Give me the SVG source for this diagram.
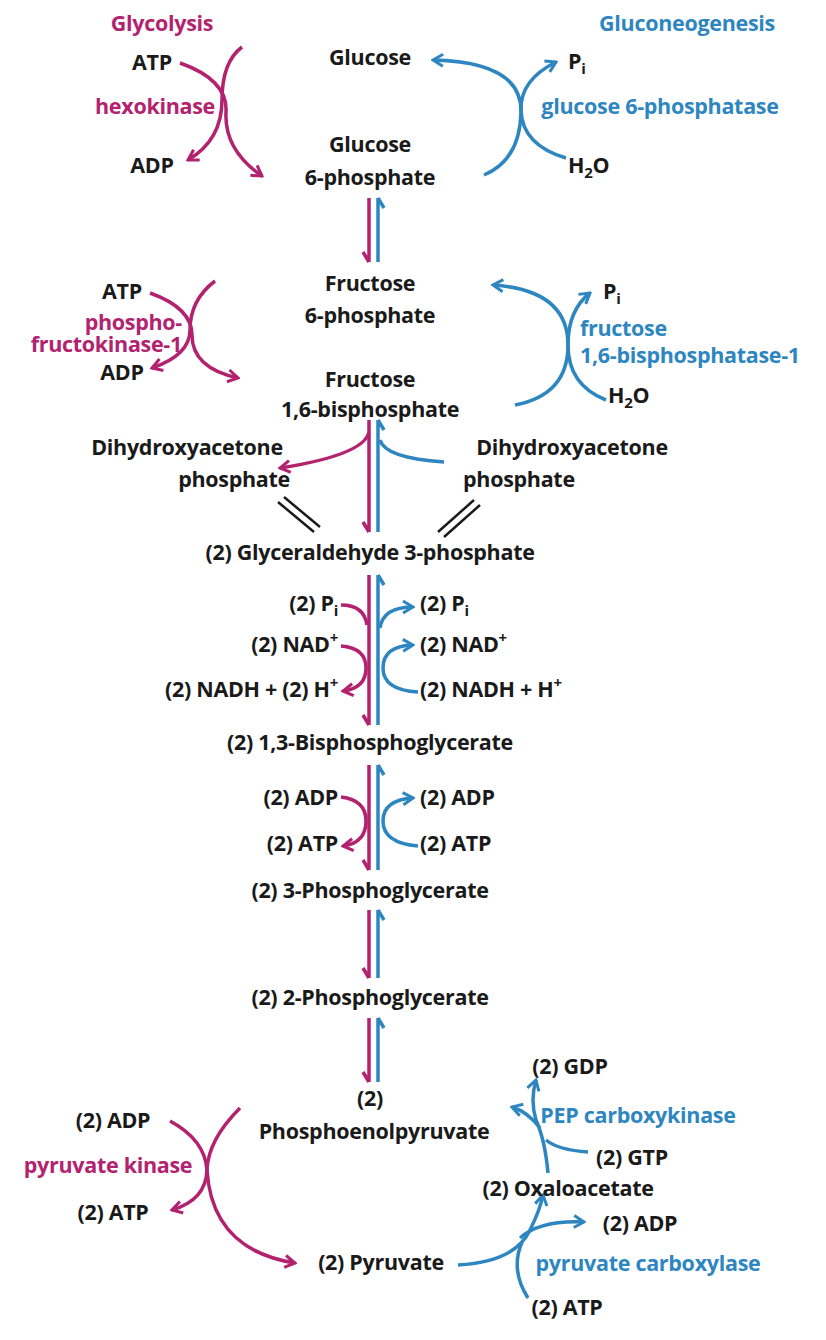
<svg xmlns="http://www.w3.org/2000/svg" width="826" height="1340" viewBox="0 0 826 1340">
<defs>
<marker id="am" viewBox="-12 -8 14 16" refX="0" refY="0" markerWidth="14" markerHeight="16" orient="auto" markerUnits="userSpaceOnUse"><path d="M-10,-6 L0,0 L-10,6" fill="none" stroke="#b3226f" stroke-width="3"/></marker>
<marker id="ab" viewBox="-12 -8 14 16" refX="0" refY="0" markerWidth="14" markerHeight="16" orient="auto" markerUnits="userSpaceOnUse"><path d="M-10,-6 L0,0 L-10,6" fill="none" stroke="#2e86c1" stroke-width="3"/></marker>
</defs>
<style>
text{font-family:"Open Sans","Liberation Sans",sans-serif;font-weight:700;font-size:21.5px;fill:#1a1a1a;text-anchor:middle;letter-spacing:-0.3px}
.m{fill:#b3226f}.b{fill:#2e86c1}
.s{text-anchor:start}.e{text-anchor:end}
.lm{fill:none;stroke:#b3226f;stroke-width:3.5}
.lb{fill:none;stroke:#2e86c1;stroke-width:3.5}
.lk{fill:none;stroke:#1a1a1a;stroke-width:2.5}
.sb{font-size:15px}
</style>
<rect width="826" height="1340" fill="#fff"/>
<g id="connectors">
<path class="lm" d="M369,198V262M369,262l-6,-10M369,420V532M369,532l-6,-10M369,575V725M369,725l-6,-10M369,765V870M369,870l-6,-10M369,910V978M369,978l-6,-10M369,1018V1082M369,1082l-6,-10"/>
<path class="lb" d="M378,198V262M378,198l6,10M378,420V532M378,420l6,10M378,575V725M378,575l6,10M378,765V870M378,765l6,10M378,910V978M378,910l6,10M378,1018V1082M378,1018l6,10"/>
<path class="lm" d="M180,63 Q228,80 226,112 Q224,150 262,176" marker-end="url(#am)"/>
<path class="lm" d="M242,47 Q222,62 222,100 Q222,140 188,160" marker-end="url(#am)"/>
<path class="lb" d="M484,175 Q520,160 521,112 Q522,62 433,60" marker-end="url(#ab)"/>
<path class="lb" d="M566,158 Q522,145 521,110 Q520,80 556,62" marker-end="url(#ab)"/>
<path class="lm" d="M150,293 Q192,308 192,335 Q192,368 238,378" marker-end="url(#am)"/>
<path class="lm" d="M215,281 Q190,300 190,330 Q190,355 152,368" marker-end="url(#am)"/>
<path class="lb" d="M515,405 Q568,395 568,345 Q568,290 493,285" marker-end="url(#ab)"/>
<path class="lb" d="M606,400 Q568,385 568,345 Q568,310 590,293" marker-end="url(#ab)"/>
<path class="lm" d="M369,432 Q364,455 280,468" marker-end="url(#am)"/>
<path class="lb" d="M444,462 Q385,458 380,440"/>
<path class="lk" d="M278,502 L314,532 M284,497 L320,527"/>
<path class="lk" d="M438,532 L474,500 M444,537 L480,505"/>
<path class="lm" d="M341,605 Q364,605 367,625"/>
<path class="lm" d="M341,646 Q366,648 366,668 Q366,688 343,691" marker-end="url(#am)"/>
<path class="lb" d="M380,628 Q383,607 413,607" marker-end="url(#ab)"/>
<path class="lb" d="M418,692 Q383,690 383,668 Q383,646 413,645" marker-end="url(#ab)"/>
<path class="lm" d="M341,797 Q366,800 366,821 Q366,843 343,846" marker-end="url(#am)"/>
<path class="lb" d="M418,846 Q383,843 383,821 Q383,800 413,798" marker-end="url(#ab)"/>
<path class="lm" d="M170,1121 Q205,1140 207,1170 Q212,1250 295,1263" marker-end="url(#am)"/>
<path class="lm" d="M240,1108 Q208,1140 207,1170 Q206,1200 172,1210" marker-end="url(#am)"/>
<path class="lb" d="M458,1265 Q515,1262 530,1230 Q540,1210 543,1195" marker-end="url(#ab)"/>
<path class="lb" d="M520,1238 Q540,1220 584,1222" marker-end="url(#ab)"/>
<path class="lb" d="M528,1298 Q510,1270 522,1242"/>
<path class="lb" d="M548,1173 Q545,1140 536,1120 Q530,1100 536,1080" marker-end="url(#ab)"/>
<path class="lb" d="M540,1128 Q528,1112 512,1107" marker-end="url(#ab)"/>
<path class="lb" d="M588,1152 Q558,1150 546,1140"/>
</g>
<g id="titles"><text class="m" x="162" y="31" font-size="23">Glycolysis</text><text class="b" x="687" y="31" font-size="23">Gluconeogenesis</text></g>
<g id="glucose"><text x="370" y="65">Glucose</text></g>
<g id="g6p"><text x="370" y="152">Glucose</text><text x="370" y="185">6-phosphate</text></g>
<g id="hexokinase"><text x="152" y="70">ATP</text><text class="m e" x="215" y="114">hexokinase</text><text x="152" y="173">ADP</text></g>
<g id="g6pase"><text class="s" x="568" y="69">P<tspan class="sb" dy="5">i</tspan></text><text class="b" x="660" y="114">glucose 6-phosphatase</text><text class="s" x="568" y="173">H<tspan class="sb" dy="5">2</tspan><tspan dy="-5">O</tspan></text></g>
<g id="f6p"><text x="370" y="291">Fructose</text><text x="370" y="323">6-phosphate</text></g>
<g id="pfk"><text x="122" y="299">ATP</text><text class="m e" x="182" y="330" font-size="18.5">phospho-</text><text class="m e" x="182" y="352" font-size="18.5">fructokinase-1</text><text x="122" y="380">ADP</text></g>
<g id="f16bp"><text x="370" y="387">Fructose</text><text x="370" y="417">1,6-bisphosphate</text></g>
<g id="fbpase"><text class="s" x="603" y="299">P<tspan class="sb" dy="5">i</tspan></text><text class="b s" x="580" y="336">fructose</text><text class="b s" x="580" y="363">1,6-bisphosphatase-1</text><text class="s" x="608" y="403">H<tspan class="sb" dy="5">2</tspan><tspan dy="-5">O</tspan></text></g>
<g id="dhap-left"><text x="187" y="455">Dihydroxyacetone</text><text class="e" x="290" y="487">phosphate</text></g>
<g id="dhap-right"><text x="572" y="455">Dihydroxyacetone</text><text class="s" x="463" y="487">phosphate</text></g>
<g id="g3p"><text x="370" y="560">(2) Glyceraldehyde 3-phosphate</text></g>
<g id="gapdh"><text class="e" x="338" y="611">(2) P<tspan class="sb" dy="5">i</tspan></text><text class="e" x="338" y="652">(2) NAD<tspan class="sb" dy="-9">+</tspan></text><text class="e" x="338" y="697">(2) NADH + (2) H<tspan class="sb" dy="-9">+</tspan></text>
<text class="s" x="420" y="611">(2) P<tspan class="sb" dy="5">i</tspan></text><text class="s" x="420" y="652">(2) NAD<tspan class="sb" dy="-9">+</tspan></text><text class="s" x="420" y="697">(2) NADH + H<tspan class="sb" dy="-9">+</tspan></text></g>
<g id="bpg"><text x="370" y="750">(2) 1,3-Bisphosphoglycerate</text></g>
<g id="pgk"><text class="e" x="338" y="805">(2) ADP</text><text class="e" x="338" y="851">(2) ATP</text><text class="s" x="420" y="805">(2) ADP</text><text class="s" x="420" y="851">(2) ATP</text></g>
<g id="pg3"><text x="370" y="898">(2) 3-Phosphoglycerate</text></g>
<g id="pg2"><text x="370" y="1005">(2) 2-Phosphoglycerate</text></g>
<g id="pep"><text x="370" y="1106">(2)</text><text x="374" y="1139">Phosphoenolpyruvate</text></g>
<g id="pk"><text x="113" y="1128">(2) ADP</text><text class="m" x="108" y="1173">pyruvate kinase</text><text x="113" y="1220">(2) ATP</text></g>
<g id="pyruvate"><text x="381" y="1270">(2) Pyruvate</text></g>
<g id="pepck"><text x="570" y="1074">(2) GDP</text><text class="b" x="638" y="1123">PEP carboxykinase</text><text x="632" y="1165">(2) GTP</text></g>
<g id="oaa"><text x="568" y="1196">(2) Oxaloacetate</text></g>
<g id="pc"><text x="640" y="1231">(2) ADP</text><text class="b" x="648" y="1271">pyruvate carboxylase</text><text x="567" y="1315">(2) ATP</text></g>
</svg>
